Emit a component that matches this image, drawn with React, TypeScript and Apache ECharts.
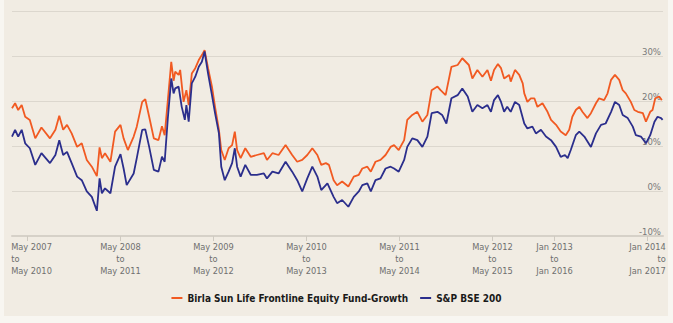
import React, { useEffect, useRef } from "react";
import * as echarts from "echarts";

// x values are months since Mar 2007 (start of the first rolling window)
const fundMonths = [0, 0.4, 0.8, 1.25, 1.7, 2.3, 3, 3.8, 4.9, 5.6, 6.1, 6.6, 7.1, 7.7, 8.4, 9, 9.65, 10.3, 10.95, 11.3, 11.6, 12, 12.7, 13.3, 14, 14.4, 14.95, 15.7, 16.1, 16.8, 17.2, 17.7, 18.3, 18.9, 19.35, 19.7, 20.1, 20.55, 20.85, 21.06, 21.5, 21.7, 22.14, 22.5, 22.8, 23.2, 23.65, 24.1, 24.5, 24.85, 25.3, 25.8, 26.2, 26.7, 27, 27.45, 27.95, 28.4, 28.75, 29.05, 29.5, 30.1, 30.8, 31.6, 32.5, 32.9, 33.6, 34.4, 35.3, 36.15, 36.8, 37.45, 38.1, 38.75, 39.4, 39.9, 40.5, 40.9, 41.5, 41.95, 42.6, 43.4, 44.1, 44.75, 45.2, 45.85, 46.3, 46.9, 47.55, 48.2, 48.85, 49.3, 49.9, 50.6, 51, 51.65, 52.3, 52.95, 53.6, 54.15, 54.9, 55.3, 55.95, 56.7, 57.5, 58.1, 58.95, 59.4, 60.05, 60.7, 61.35, 61.8, 62.2, 62.7, 63.1, 63.5, 64.15, 64.35, 64.9, 65.45, 65.9, 66.1, 66.5, 66.95, 67.4, 67.8, 68.45, 69.1, 69.55, 70.2, 70.8, 71.45, 71.9, 72.3, 72.75, 73.2, 73.6, 74.25, 74.7, 75.35, 75.75, 76.4, 76.85, 77.3, 77.8, 78.35, 78.8, 79.2, 79.85, 80.3, 80.75, 81.4, 81.8, 82.35, 82.65, 83, 83.5, 83.85];
const fundValues = [18.4, 19.5, 18, 19.1, 16.5, 15.8, 11.7, 14.1, 11.7, 13.6, 16.7, 13.6, 14.7, 12.8, 9.8, 10.6, 6.9, 5.4, 3.3, 9.7, 7.3, 8.4, 6.5, 13.2, 14.7, 11.7, 9.1, 12.1, 14.3, 19.8, 20.4, 16.5, 11.7, 11.3, 14.4, 12.4, 20, 28.7, 24.5, 26.5, 25.8, 26.9, 19.8, 22.4, 19.1, 26.1, 27.3, 29.1, 30.2, 31.3, 27.3, 23.2, 18.7, 13.6, 9.1, 6.9, 9.5, 10.2, 13.2, 9.1, 7.3, 9.5, 7.6, 8, 8.4, 6.9, 8.4, 8, 10.2, 8, 6.5, 6.9, 8, 9.5, 8, 5.8, 6.2, 5.8, 2.4, 1.3, 2.1, 1, 3.2, 3.6, 5, 5.4, 4.3, 6.5, 6.9, 8, 9.8, 10.2, 9.1, 11.3, 15.8, 16.9, 17.6, 15.4, 16.9, 22.4, 23.2, 22.4, 21.3, 27.6, 28, 29.5, 28, 25, 26.9, 25.4, 26.9, 24.5, 26.9, 28.2, 27.3, 25, 25.8, 24.3, 26.9, 25.8, 23.9, 21.7, 19.8, 20.6, 20.6, 18.7, 19.5, 17.6, 15.8, 14.7, 13.2, 12.4, 13.6, 16.5, 18, 18.7, 17.6, 16.2, 17.3, 19.5, 20.6, 20.2, 21.7, 24.7, 25.8, 24.7, 22.4, 21.7, 19.8, 18, 17.6, 17.3, 15.4, 17.6, 18, 20.6, 21, 20.2];

const indexMonths = [0, 0.4, 0.8, 1.25, 1.7, 2.3, 3, 3.8, 4.9, 5.6, 6.1, 6.6, 7.1, 7.7, 8.4, 9, 9.65, 10.3, 10.95, 11.3, 11.6, 12, 12.7, 13.3, 14, 14.4, 14.8, 15.7, 16.1, 16.8, 17.2, 17.7, 18.3, 18.9, 19.35, 19.7, 20.1, 20.55, 20.85, 21.06, 21.5, 21.9, 22.3, 22.5, 22.8, 23.2, 23.65, 24.1, 24.5, 24.85, 25.3, 25.8, 26.2, 26.7, 27, 27.45, 27.95, 28.4, 28.75, 29.05, 29.5, 30.1, 30.8, 31.6, 32.5, 32.9, 33.6, 34.4, 35.3, 36.15, 36.8, 37.45, 38.1, 38.75, 39.4, 39.9, 40.7, 41.5, 41.95, 42.6, 43.4, 44.1, 44.75, 45.2, 45.85, 46.3, 46.9, 47.55, 48.2, 48.85, 49.3, 49.9, 50.6, 51, 51.65, 52.3, 52.95, 53.6, 54.15, 54.9, 55.5, 56.05, 56.7, 57.5, 58.1, 58.8, 59.4, 60.05, 60.7, 61.35, 61.8, 62.2, 62.7, 63.1, 63.5, 63.9, 64.35, 64.9, 65.45, 66.1, 66.5, 67.15, 67.6, 68.25, 68.9, 69.55, 70.2, 70.8, 71.35, 71.7, 72.1, 72.75, 73.2, 73.85, 74.7, 75.35, 76, 76.6, 77.3, 77.8, 78.35, 78.8, 79.45, 80.1, 80.5, 81.15, 81.8, 82.35, 82.9, 83.3, 83.75, 83.95];
const indexValues = [12.1, 13.6, 12.1, 13.6, 10.6, 9.5, 5.8, 8.4, 6.2, 8, 11.3, 8, 8.7, 6.2, 3.2, 2.4, -0.1, -1.3, -4.4, 2.8, -0.5, 0.6, -0.5, 5.4, 8.2, 5, 1.3, 3.9, 7.3, 13.6, 13.7, 9.8, 4.7, 4.3, 7.6, 6.5, 16, 25, 21.7, 22.8, 23.2, 18.7, 15.8, 19.1, 15.4, 23.9, 25.4, 27.6, 28.7, 31, 26.1, 21.3, 17.3, 12.8, 5.4, 2.4, 4.3, 6.2, 9.5, 5.4, 3.2, 5.8, 3.6, 3.6, 3.9, 2.8, 4.3, 3.9, 6.5, 4.3, 2.4, -0.1, 2.8, 5.4, 3.2, 0.2, 1.7, -1.3, -2.7, -2, -3.5, -1.3, -0.1, 1.3, 1.7, -0.1, 2.4, 2.8, 5, 5.4, 5, 4.3, 6.9, 9.8, 11.7, 11.3, 9.8, 12.1, 17.3, 17.6, 16.9, 15, 20.6, 21.3, 22.8, 21, 17.6, 19.1, 18.4, 19.1, 17.6, 20.2, 21.3, 19.8, 17.6, 18.7, 17.6, 19.8, 19.1, 15, 13.9, 14.3, 12.8, 13.6, 12.1, 11.3, 9.8, 7.6, 8, 7.3, 9.1, 12.4, 13.2, 12.1, 9.8, 12.8, 14.7, 15, 17.6, 19.8, 19.1, 16.9, 16.2, 14.3, 12.4, 12.1, 10.6, 12.4, 15.4, 16.5, 16.2, 15.8];

const tickMonths = [2, 14, 26, 38, 50, 62, 70, 82];
const windowStarts = ["May 2007", "May 2008", "May 2009", "May 2010", "May 2011", "May 2012", "Jan 2013", "Jan 2014"];
const windowEnds = ["May 2010", "May 2011", "May 2012", "May 2013", "May 2014", "May 2015", "Jan 2016", "Jan 2017"];
const yTicks = [-10, 0, 10, 20, 30, 40];

const seriesNames = ["Birla Sun Life Frontline Equity Fund-Growth", "S&P BSE 200"];

export default function App() {
  const ref = useRef<HTMLDivElement>(null);
  useEffect(() => {
    document.body.style.margin = "0";
    if (!ref.current) return;
    const chart = echarts.init(ref.current, undefined, { renderer: "svg" });
    const font = "'Liberation Sans Narrow', 'DejaVu Sans Condensed', Arial, sans-serif";
    const fund = fundMonths.map((m, i) => [m, fundValues[i]]);
    const idx = indexMonths.map((m, i) => [m, indexValues[i]]);
    const lab = { fontFamily: font, fontSize: 9.2, lineHeight: 12, color: "#6f6f6f" };
    chart.setOption({
      animation: false,
      backgroundColor: "transparent",
      grid: { left: 12, right: 10, top: 11, bottom: 87, containLabel: false },
      legend: {
        top: 288,
        left: "center",
        itemWidth: 11,
        itemHeight: 2,
        itemGap: 12,
        icon: "rect",
        data: seriesNames,
        textStyle: { fontFamily: font, fontWeight: "bold", fontSize: 10, color: "#1a1a1a" },
      },
      xAxis: {
        type: "value",
        min: 0,
        max: 84,
        axisLine: { onZero: false, lineStyle: { color: "#d6d1c8", width: 2 } },
        axisTick: { show: true, customValues: tickMonths, length: 5, lineStyle: { color: "#cfcac1" } },
        splitLine: { show: false },
        axisLabel: {
          customValues: tickMonths,
          margin: 4,
          formatter: (v: number) => {
            const i = tickMonths.indexOf(v);
            if (i < 0) return "";
            const s = i === 0 ? "l" : i === tickMonths.length - 1 ? "r" : "c";
            return `{${s}|${windowStarts[i]}}\n{${s}|to}\n{${s}|${windowEnds[i]}}`;
          },
          rich: {
            l: { ...lab, align: "left", padding: [0, 0, 0, 8] },
            c: { ...lab, align: "center" },
            r: { ...lab, align: "right" },
          },
        },
      },
      yAxis: {
        type: "value",
        position: "right",
        min: -10,
        max: 40,
        interval: 10,
        axisLine: { show: false },
        axisTick: { show: false },
        splitLine: { lineStyle: { color: "#dcd7ce", width: 1 } },
        axisLabel: {
          inside: true,
          margin: 2,
          verticalAlign: "bottom",
          fontFamily: font,
          fontSize: 9.5,
          color: "#7a7a7a",
          formatter: (v: number) => (v === yTicks[yTicks.length - 1] ? "" : `${v}%`),
        },
      },
      series: [
        {
          name: seriesNames[0],
          type: "line",
          data: fund,
          showSymbol: false,
          color: "#f15a22",
          lineStyle: { width: 1.8, color: "#f15a22" },
        },
        {
          name: seriesNames[1],
          type: "line",
          data: idx,
          showSymbol: false,
          color: "#2b2e8c",
          lineStyle: { width: 1.8, color: "#2b2e8c" },
        },
      ],
    });
    return () => chart.dispose();
  }, []);
  return (
    <div style={{ position: "relative", width: 673, height: 323, background: "#f8f6f1" }}>
      <div style={{ position: "absolute", left: 4, top: 0, width: 664, height: 316, background: "#f1ece3" }} />
      <div ref={ref} style={{ position: "absolute", left: 0, top: 0, width: 673, height: 323 }} />
    </div>
  );
}
